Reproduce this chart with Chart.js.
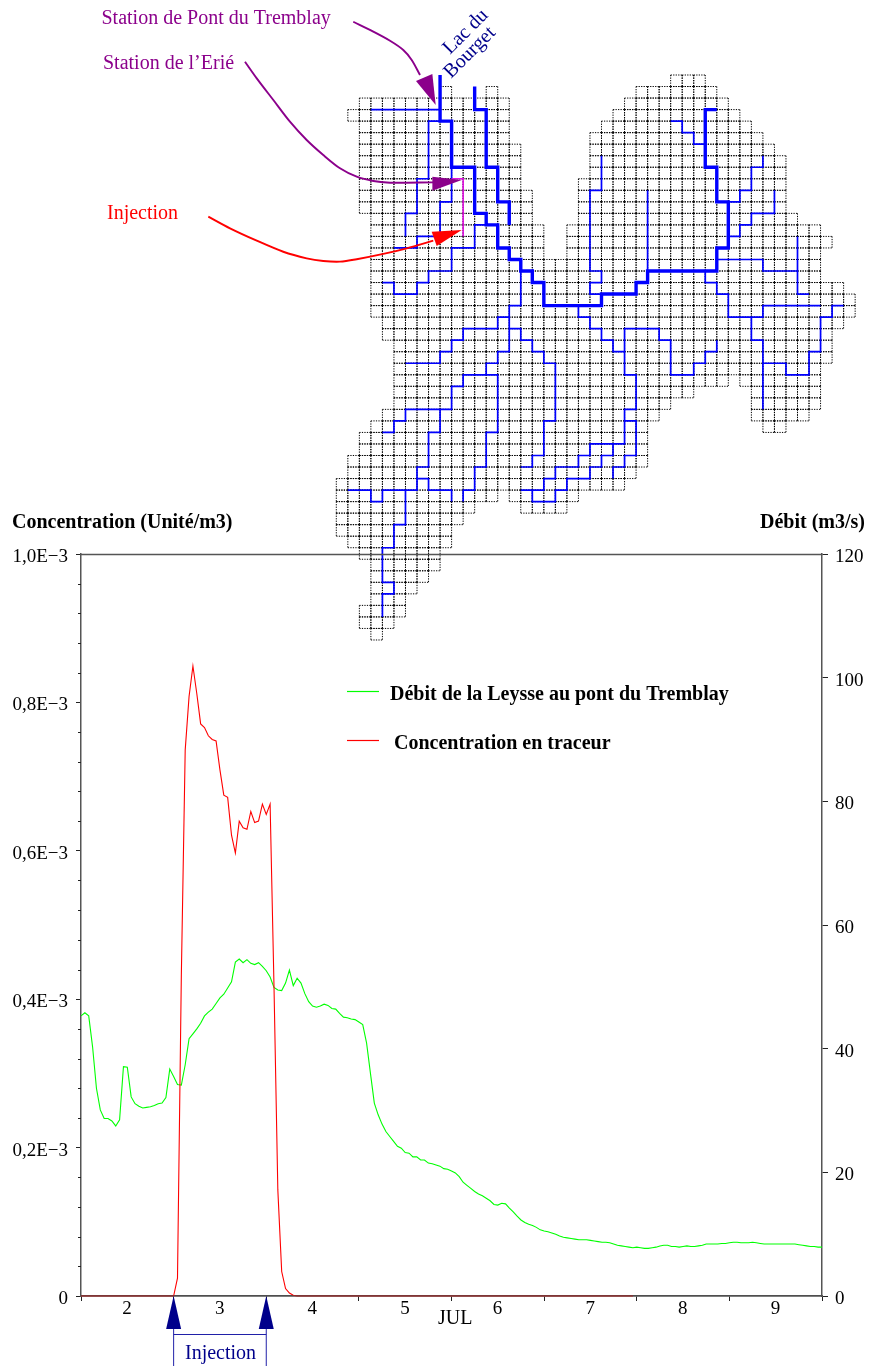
<!DOCTYPE html>
<html>
<head>
<meta charset="utf-8">
<title>Traceur Leysse</title>
<script src="https://cdn.jsdelivr.net/npm/chart.js@4/dist/chart.umd.min.js"></script>
<style>
  html, body { margin: 0; background: #fff; }
  canvas { display: block; }
</style>
</head>
<body>
<canvas id="chart" width="870" height="1366"></canvas>
<script>
// hourly readings from July 2 00:00
const flowHourly = [
  45.3,45.8,45.3,40.3,33.6,30.1,28.7,28.7,28.3,27.5,28.5,37.1,37.0,32.2,31.1,30.7,30.4,30.5,30.6,30.8,31.1,31.2,32.1,36.7,
  35.5,34.2,34.1,37.4,41.6,42.4,43.2,44.1,45.3,45.9,46.4,47.3,48.2,48.8,49.8,50.8,54.0,54.5,53.9,54.4,53.8,53.6,53.9,53.3,
  52.6,51.6,49.9,49.5,49.4,50.6,52.7,50.2,51.4,50.6,48.9,47.6,46.9,46.7,46.9,47.2,47.0,46.5,46.4,45.7,45.1,45.0,44.8,44.7,
  44.3,43.9,40.9,36.0,31.2,29.3,27.8,26.6,25.8,25.0,24.2,23.9,23.2,23.1,22.5,22.5,22.0,22.0,21.5,21.4,21.2,21.0,20.6,20.5,
  20.2,19.9,19.3,18.4,17.9,17.4,16.9,16.5,16.2,15.8,15.4,14.8,14.7,15.0,14.9,14.2,13.6,12.9,12.3,11.9,11.6,11.4,11.1,10.7,
  10.5,10.4,10.2,10.0,9.7,9.5,9.4,9.3,9.2,9.1,9.1,9.1,9.0,8.9,8.8,8.7,8.7,8.6,8.4,8.2,8.1,8.0,7.9,7.8,
  7.9,7.8,7.7,7.7,7.8,7.9,8.1,8.2,8.2,8.0,8.0,7.9,8.0,8.1,8.0,8.0,8.1,8.2,8.4,8.4,8.4,8.4,8.5,8.5,
  8.6,8.7,8.7,8.6,8.6,8.6,8.7,8.6,8.5,8.4,8.4,8.4,8.4,8.4,8.4,8.4,8.4,8.4,8.3,8.2,8.1,8.0,8.0,7.9,7.9
];

// unit is 1E-3
const tracerHourly = [
  0,0,0,0,0,0,0,0,0,0,0,0,0,0,0,0,0,0,0,0,0,0,0,0,
  0,.024,.433,.736,.808,.849,.812,.771,.766,.755,.750,.748,.709,.675,.672,.621,.597,.640,.631,.629,.653,.638,.640,.663,
  .649,.663,.419,.143,.033,.010,.004,.001,0,0,0,0,0,0,0,0,0,0,0,0,0,0,0,0,
  0,0,0,0,0,0,0,0,0,0,0,0,0,0,0,0,0,0,0,0,0,0,0,0,
  0,0,0,0,0,0,0,0,0,0,0,0,0,0,0,0,0,0,0,0,0,0,0,0,
  0,0,0,0,0,0,0,0,0,0,0,0,0,0,0,0,0,0,0,0,0,0,0,0
];

const dayTicks = [2, 3, 4, 5, 6, 7, 8, 9];
const injectionDays = [3, 4];
const concMinorTicks = [.04,.08,.12,.16,.24,.28,.32,.36,.44,.48,.52,.56,.64,.68,.72,.76,.84,.88,.92,.96];

// watershed cells: one entry per row, [first col, last col] runs
const cellRows = [
  [[29,31]],
  [[9,9],[13,13],[26,32]],
  [[2,14],[25,33]],
  [[1,14],[24,34]],
  [[2,14],[23,35]],
  [[2,14],[22,36]],
  [[2,15],[22,37]],
  [[2,15],[22,38]],
  [[2,15],[22,38]],
  [[2,15],[21,38]],
  [[2,16],[21,38]],
  [[2,16],[21,38]],
  [[3,16],[21,39]],
  [[3,17],[20,41]],
  [[3,17],[20,42]],
  [[3,17],[20,41]],
  [[3,41]],
  [[3,41]],
  [[3,43]],
  [[3,44]],
  [[3,44]],
  [[4,43]],
  [[4,42]],
  [[5,42]],
  [[5,42]],
  [[5,41]],
  [[5,33],[35,41]],
  [[5,30],[36,41]],
  [[5,28],[36,41]],
  [[4,27],[36,40]],
  [[3,26],[37,38]],
  [[2,26]],
  [[2,26]],
  [[1,26]],
  [[1,25]],
  [[0,24]],
  [[0,13],[15,20]],
  [[0,11],[16,19]],
  [[0,10]],
  [[0,9]],
  [[1,9]],
  [[2,8]],
  [[3,8]],
  [[3,7]],
  [[3,6]],
  [[3,5]],
  [[2,5]],
  [[2,4]],
  [[3,3]]
];

// river network, as [col, row] grid vertices
const thickRivers = [
  [[9,0],[9,4],[10,4],[10,8],[12,8],[12,12],[13,12],[13,13],[14,13],[14,15],[15,15],[15,16],[16,16],[16,17],[17,17],[17,18],[18,18],[18,20],[23,20],[23,19],[26,19],[26,18],[27,18],[27,17],[33,17],[33,15],[34,15],[34,11],[33,11],[33,8],[32,8],[32,3],[33,3]],
  [[12,1],[12,3],[13,3],[13,8],[14,8],[14,11],[15,11],[15,13]]
];
const thinRivers = [
  [[3,3],[9,3]],
  [[9,4],[8,4],[8,9],[7,9],[7,12],[6,12],[6,14]],
  [[10,8],[10,11],[9,11],[9,14],[7,14],[7,15],[5,15]],
  [[13,13],[12,13],[12,15],[10,15],[10,17],[8,17],[8,18],[7,18],[7,19],[5,19],[5,18],[4,18]],
  [[16,17],[16,20],[15,20],[15,24],[14,24],[14,25],[13,25],[13,26],[11,26],[11,27],[10,27],[10,29],[6,29],[6,30],[5,30],[5,31],[4,31]],
  [[15,21],[14,21],[14,22],[11,22],[11,23],[10,23],[10,24],[9,24],[9,25],[6,25]],
  [[15,22],[16,22],[16,23],[17,23],[17,24],[18,24],[18,25],[19,25],[19,30],[18,30],[18,33],[17,33],[17,34],[16,34]],
  [[9,29],[9,31],[8,31],[8,34],[7,34],[7,36],[6,36],[6,39],[5,39],[5,41],[4,41],[4,44],[5,44],[5,45],[4,45],[4,47]],
  [[7,35],[8,35],[8,36],[10,36],[10,37]],
  [[6,36],[4,36],[4,37],[3,37],[3,36],[1,36]],
  [[13,26],[14,26],[14,31],[13,31],[13,34],[12,34],[12,36],[11,36],[11,37]],
  [[18,35],[19,35],[19,34],[21,34],[21,33],[22,33],[22,32],[25,32],[25,29],[26,29],[26,26],[25,26],[25,24],[24,24],[24,23],[23,23],[23,22],[22,22],[22,21],[21,21],[21,20]],
  [[18,35],[18,36],[16,36]],
  [[17,36],[17,37],[19,37],[19,36],[20,36],[20,35],[22,35],[22,34],[23,34],[23,33],[24,33],[24,32]],
  [[24,35],[24,34],[25,34],[25,33],[26,33],[26,30],[25,30]],
  [[25,24],[25,22],[28,22],[28,23],[29,23],[29,26],[31,26],[31,25],[32,25],[32,24],[33,24],[33,23]],
  [[32,17],[32,18],[33,18],[33,19],[34,19],[34,21],[36,21],[36,23],[37,23],[37,29]],
  [[37,25],[39,25],[39,26],[41,26],[41,24],[42,24],[42,21],[43,21],[43,20],[44,20]],
  [[36,21],[37,21],[37,20],[42,20]],
  [[33,16],[37,16],[37,17],[40,17],[40,14]],
  [[40,17],[40,19],[41,19]],
  [[34,14],[35,14],[35,13],[36,13],[36,12],[38,12],[38,10]],
  [[34,11],[35,11],[35,10],[36,10],[36,8],[37,8],[37,7]],
  [[29,4],[30,4],[30,5],[31,5],[31,6],[32,6]],
  [[27,17],[27,10]],
  [[23,7],[23,10],[22,10],[22,17],[23,17],[23,18],[22,18],[22,19],[23,19]]
];
const injectedReach = [[10,9],[11,9],[11,14]];

// callout curves and their heads, in the same grid units
const curvePont = [[1.47,-4.62],[3.21,-3.76],[4.66,-2.97],[5.81,-2.17],[6.54,-1.30],[7.26,0]];
const headPont = [[8.62,2.60],[6.91,0.52],[8.33,-0.09]];
const curveErie = [[-7.92,-1.15],[-6.90,0.29],[-5.46,2.17],[-4.02,4.05],[-2.57,5.64],[-1.13,6.94],[0.32,8.09],[1.77,8.82],[3.21,9.19],[4.66,9.34],[6.11,9.34],[8.41,9.31]];
const headErie = [[10.88,9.11],[8.33,8.82],[8.33,10.03]];
const curveInjection = [[-11.10,12.29],[-9.22,13.30],[-6.90,14.37],[-4.60,15.33],[-2.57,15.90],[-1.13,16.13],[0.32,16.19],[1.77,15.98],[4.08,15.52],[6.11,15.03],[8.41,14.37]];
const headInjection = [[10.88,13.44],[8.27,13.59],[8.71,14.83]];

const SERIF = '"Liberation Serif", "Times New Roman", serif';
const PURPLE = '#8b008b';
const NAVY = '#00008b';

// plot box and map placement on the page
const BOX = { left: 81, right: 822, top: 554, bottom: 1296 };
const CELL = 11.53, MAP_X0 = 336.3, MAP_Y0 = 75;

const pts = (list) => list.map(([x, y]) => ({ x, y }));

function joined(paths) {
  const out = [];
  paths.forEach((p) => {
    p.forEach(([x, y]) => out.push({ x, y }));
    out.push({ x: null, y: null });
  });
  return out;
}

// each edge runs the same way so shared edges land on the same dots
function cellOutlines() {
  const paths = [];
  cellRows.forEach((runs, r) => {
    runs.forEach(([a, b]) => {
      for (let c = a; c <= b; c++) {
        paths.push([[c, r], [c + 1, r]]);
        paths.push([[c, r + 1], [c + 1, r + 1]]);
        paths.push([[c, r], [c, r + 1]]);
        paths.push([[c + 1, r], [c + 1, r + 1]]);
      }
    });
  });
  return paths;
}

const mapLine = (data, color, width, extra) => Object.assign({
  data, xAxisID: 'mx', yAxisID: 'my', showLine: true, clip: false,
  borderColor: color, borderWidth: width, pointRadius: 0, spanGaps: false,
  borderJoinStyle: 'miter', borderCapStyle: 'butt'
}, extra || {});

const notes = [
  { text: 'Station de Pont du Tremblay', x: 101.5, y: 24, font: '20px', color: PURPLE },
  { text: 'Station de l’Erié', x: 103, y: 69, font: '20px', color: PURPLE },
  { text: 'Injection', x: 107, y: 219, font: '20px', color: '#ff0000' },
  { text: 'Lac du', x: 450, y: 55, font: '20px', color: NAVY, rot: -45 },
  { text: 'Bourget', x: 451, y: 79, font: '20px', color: NAVY, rot: -45 },
  { text: 'Concentration (Unité/m3)', x: 12, y: 528, font: 'bold 20px', color: '#000' },
  { text: 'Débit (m3/s)', x: 760, y: 528, font: 'bold 20px', color: '#000' },
  { text: 'Débit de la Leysse au pont du Tremblay', x: 390, y: 700, font: 'bold 20px', color: '#000' },
  { text: 'Concentration en traceur', x: 394, y: 749, font: 'bold 20px', color: '#000' },
  { text: 'JUL', x: 438, y: 1324, font: '20px', color: '#000' },
  { text: 'Injection', x: 185, y: 1359, font: '20px', color: NAVY }
];

const overlay = {
  id: 'overlay',
  afterDatasetsDraw(chart) {
    const { ctx, scales } = chart;
    const { x, y, mx, my } = scales;

    ctx.save();
    // top of the frame, and the axis showing through the flat tracer line
    ctx.strokeStyle = '#555';
    ctx.lineWidth = 1.3;
    ctx.beginPath();
    ctx.moveTo(x.left, y.top + 0.5);
    ctx.lineTo(x.right + 0.5, y.top + 0.5);
    ctx.stroke();
    ctx.strokeStyle = 'rgba(70,70,70,.6)';
    ctx.beginPath();
    ctx.moveTo(x.left, y.bottom);
    ctx.lineTo(x.right, y.bottom);
    ctx.stroke();

    // short left ticks between the labelled ones
    ctx.lineWidth = 1;
    ctx.strokeStyle = '#222';
    concMinorTicks.forEach((v) => {
      const py = Math.round(y.getPixelForValue(v)) + 0.5;
      ctx.beginPath();
      ctx.moveTo(x.left - 3, py);
      ctx.lineTo(x.left, py);
      ctx.stroke();
    });

    // callout arrow heads
    [[headPont, PURPLE], [headErie, PURPLE], [headInjection, '#ff0000']].forEach(([head, color]) => {
      ctx.fillStyle = color;
      ctx.beginPath();
      head.forEach(([c, r], i) => {
        const px = mx.getPixelForValue(c), py = my.getPixelForValue(r);
        if (i) ctx.lineTo(px, py); else ctx.moveTo(px, py);
      });
      ctx.closePath();
      ctx.fill();
    });

    // injection window under the time axis
    const bottom = y.bottom;
    const xs = injectionDays.map((d) => x.getPixelForValue(d));
    ctx.strokeStyle = '#2020a8';
    ctx.fillStyle = NAVY;
    xs.forEach((px) => {
      ctx.beginPath();
      ctx.moveTo(px, bottom + 33);
      ctx.lineTo(px, 1366);
      ctx.stroke();
      ctx.beginPath();
      ctx.moveTo(px, bottom);
      ctx.lineTo(px - 7.5, bottom + 33);
      ctx.lineTo(px + 7.5, bottom + 33);
      ctx.closePath();
      ctx.fill();
    });
    ctx.beginPath();
    ctx.moveTo(xs[0], bottom + 38.5);
    ctx.lineTo(xs[1], bottom + 38.5);
    ctx.stroke();

    // legend keys
    ctx.lineWidth = 1.2;
    ctx.strokeStyle = '#00ff00';
    ctx.beginPath(); ctx.moveTo(347, 691.5); ctx.lineTo(379, 691.5); ctx.stroke();
    ctx.strokeStyle = '#ff0000';
    ctx.beginPath(); ctx.moveTo(347, 740.5); ctx.lineTo(379, 740.5); ctx.stroke();

    // labels
    ctx.textBaseline = 'alphabetic';
    ctx.textAlign = 'left';
    notes.forEach((n) => {
      ctx.save();
      ctx.font = n.font + ' ' + SERIF;
      ctx.fillStyle = n.color;
      ctx.translate(n.x, n.y);
      if (n.rot) ctx.rotate(n.rot * Math.PI / 180);
      ctx.fillText(n.text, 0, 0);
      ctx.restore();
    });
    ctx.restore();
  }
};

new Chart(document.getElementById('chart'), {
  type: 'scatter',
  plugins: [overlay],
  data: {
    datasets: [
      mapLine(pts(curvePont), PURPLE, 1.9, { tension: 0.3 }),
      mapLine(pts(curveErie), PURPLE, 1.9, { tension: 0.3 }),
      mapLine(pts(curveInjection), '#ff0000', 1.9, { tension: 0.3 }),
      mapLine(pts(injectedReach), '#e010e0', 1.6),
      mapLine(joined(thickRivers), '#0000ff', 3.4),
      mapLine(joined(thinRivers), '#0000ff', 1.7),
      mapLine(joined(cellOutlines()), '#000', 1, { borderDash: [1.25, 1.25] }),
      {
        data: tracerHourly.map((v, i) => ({ x: 2 + i / 24, y: v })),
        xAxisID: 'x', yAxisID: 'y', showLine: true, clip: false,
        borderColor: '#ff0000', borderWidth: 1.1, pointRadius: 0
      },
      {
        data: flowHourly.map((v, i) => ({ x: 2 + i / 24, y: v })),
        xAxisID: 'x', yAxisID: 'y1', showLine: true,
        borderColor: '#00ff00', borderWidth: 1.1, pointRadius: 0
      }
    ]
  },
  options: {
    responsive: false,
    animation: false,
    events: [],
    layout: { padding: { top: BOX.top, left: 0, right: 0, bottom: 0 } },
    plugins: { legend: { display: false }, tooltip: { enabled: false } },
    scales: {
      x: {
        type: 'linear', min: 2, max: 10,
        afterFit(s) { s.height = 1366 - BOX.bottom; },
        border: { color: '#555', width: 1.5 },
        grid: { drawOnChartArea: false, tickLength: 5, tickColor: '#222' },
        ticks: {
          stepSize: 1, autoSkip: false, maxRotation: 0, padding: -3, labelOffset: 46,
          color: '#000', font: { family: SERIF, size: 19 },
          callback: (v) => (dayTicks.includes(v) ? String(v) : '')
        }
      },
      y: {
        type: 'linear', position: 'left', min: 0, max: 1,
        afterFit(s) { s.width = BOX.left; },
        border: { color: '#555', width: 1.5 },
        grid: { drawOnChartArea: false, tickLength: 5, tickColor: '#222' },
        ticks: {
          stepSize: 0.2, padding: 8, labelOffset: 3, color: '#000', font: { family: SERIF, size: 19 },
          callback: (v) => (v === 0 ? '0' : v.toFixed(1).replace('.', ',') + 'E−3')
        }
      },
      y1: {
        type: 'linear', position: 'right', min: 0, max: 120,
        afterFit(s) { s.width = 870 - BOX.right; },
        border: { color: '#555', width: 1.5 },
        grid: { drawOnChartArea: false, tickLength: 6, tickColor: '#222' },
        ticks: { stepSize: 20, padding: 7, labelOffset: 3, color: '#000', font: { family: SERIF, size: 19 } }
      },
      mx: {
        type: 'linear', display: false, position: 'bottom',
        min: (BOX.left - MAP_X0) / CELL, max: (BOX.right - MAP_X0) / CELL
      },
      my: {
        type: 'linear', display: false, position: 'left', reverse: true,
        min: (BOX.top - MAP_Y0) / CELL, max: (BOX.bottom - MAP_Y0) / CELL
      }
    }
  }
});
</script>
</body>
</html>
